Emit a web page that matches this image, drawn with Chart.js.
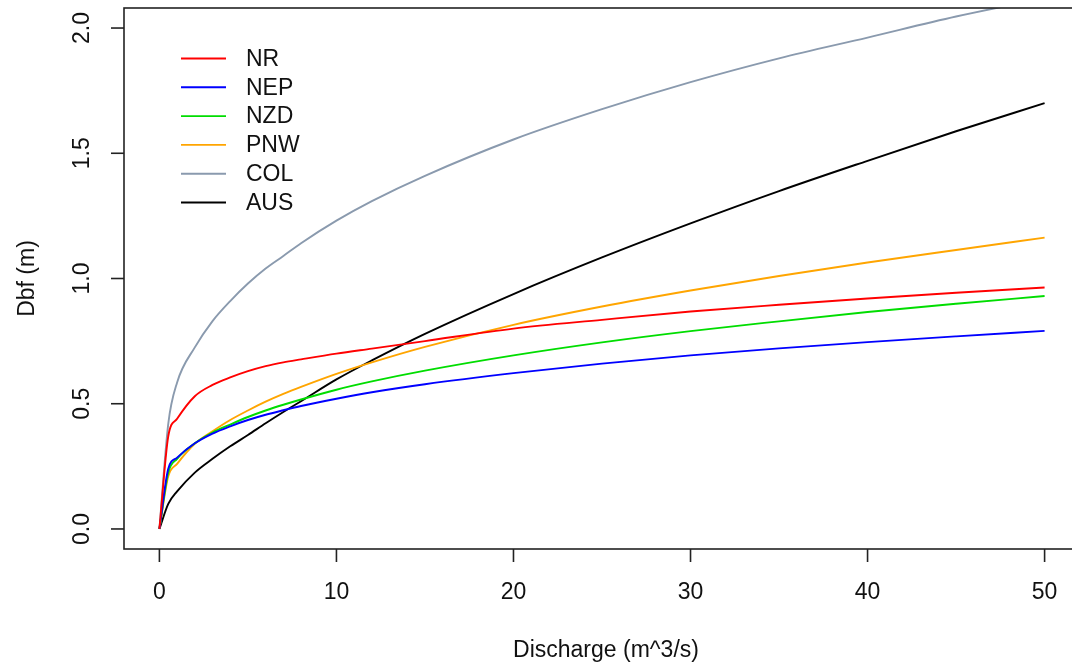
<!DOCTYPE html>
<html>
<head>
<meta charset="utf-8">
<script src="https://cdn.jsdelivr.net/npm/chart.js@4"></script>
<style>
  html, body { margin: 0; padding: 0; background: #fff; overflow: hidden; }
  #wrap { width: 1100px; height: 668px; }
</style>
</head>
<body>
<div id="wrap"><canvas id="c" width="1100" height="668"></canvas></div>
<script>
// discharge values (m^3/s) where each curve was read
const discharge = [0, 0.5, 1, 2, 3, 4, 5, 6, 7, 8, 10, 12, 15, 20, 25, 30, 35, 40, 45, 50];

const nr  = [0, 0.37, 0.44, 0.53, 0.575, 0.605, 0.63, 0.65, 0.665, 0.677, 0.70, 0.72, 0.75, 0.80, 0.835, 0.868, 0.895, 0.92, 0.943, 0.964];
const nep = [0, 0.24, 0.285, 0.342, 0.381, 0.41, 0.435, 0.456, 0.474, 0.491, 0.52, 0.546, 0.578, 0.622, 0.66, 0.693, 0.721, 0.746, 0.769, 0.791];
const nzd = [0, 0.225, 0.28, 0.342, 0.385, 0.417, 0.447, 0.473, 0.496, 0.517, 0.556, 0.589, 0.632, 0.693, 0.745, 0.79, 0.829, 0.866, 0.899, 0.93];
const pnw = [0, 0.21, 0.26, 0.34, 0.39, 0.435, 0.473, 0.508, 0.539, 0.567, 0.619, 0.665, 0.727, 0.815, 0.888, 0.952, 1.01, 1.064, 1.114, 1.163];
const col = [0, 0.42, 0.585, 0.725, 0.83, 0.91, 0.98, 1.04, 1.09, 1.141, 1.231, 1.309, 1.41, 1.555, 1.676, 1.784, 1.879, 1.962, 2.046, 2.119];
const aus = [0, 0.10, 0.15, 0.225, 0.28, 0.33, 0.375, 0.422, 0.467, 0.51, 0.597, 0.673, 0.779, 0.938, 1.084, 1.22, 1.349, 1.47, 1.588, 1.70];

const seriesNames = ['NR', 'NEP', 'NZD', 'PNW', 'COL', 'AUS'];
const seriesColors = ['#ff0000', '#0000ff', '#00dd00', '#ffa500', '#8a9aae', '#000000'];
const xTicks = [0, 10, 20, 30, 40, 50];
const yTicks = [0, 0.5, 1, 1.5, 2];
const yTickLabels = ['0.0', '0.5', '1.0', '1.5', '2.0'];

const FONT = '"Liberation Sans", Arial, sans-serif';

const datasets = [nr, nep, nzd, pnw, col, aus].map((vals, i) => ({
  label: seriesNames[i],
  data: discharge.map((q, j) => ({ x: q, y: vals[j] })),
  borderColor: seriesColors[i],
  backgroundColor: seriesColors[i],
  borderWidth: 1.9,
  pointRadius: 0,
  cubicInterpolationMode: 'monotone',
  fill: false
}));

// R-style box, ticks, tick labels, titles and legend
const rAxes = {
  id: 'rAxes',
  afterDraw(chart) {
    const { ctx, chartArea: a, scales: { x, y } } = chart;
    ctx.save();
    ctx.strokeStyle = '#222';
    ctx.lineWidth = 1.6;
    ctx.strokeRect(a.left, a.top, a.right - a.left, a.bottom - a.top);

    ctx.fillStyle = '#111';
    ctx.font = '23px ' + FONT;
    ctx.textAlign = 'center';
    ctx.textBaseline = 'middle';
    xTicks.forEach(v => {
      const px = x.getPixelForValue(v);
      ctx.beginPath();
      ctx.moveTo(px, a.bottom);
      ctx.lineTo(px, a.bottom + 13);
      ctx.stroke();
      ctx.fillText(String(v), px, 593);
    });
    yTicks.forEach((v, i) => {
      const py = y.getPixelForValue(v);
      ctx.beginPath();
      ctx.moveTo(a.left, py);
      ctx.lineTo(a.left - 13, py);
      ctx.stroke();
      ctx.save();
      ctx.translate(83, py);
      ctx.rotate(-Math.PI / 2);
      ctx.fillText(yTickLabels[i], 0, 0);
      ctx.restore();
    });

    ctx.fillText('Discharge (m^3/s)', (a.left + a.right) / 2 + 4, 651);
    ctx.save();
    ctx.translate(28, (a.top + a.bottom) / 2);
    ctx.rotate(-Math.PI / 2);
    ctx.fillText('Dbf (m)', 0, 0);
    ctx.restore();

    // legend
    ctx.textAlign = 'left';
    chart.data.datasets.forEach((ds, i) => {
      const ly = 58.5 + i * 28.8;
      ctx.strokeStyle = ds.borderColor;
      ctx.lineWidth = 1.9;
      ctx.beginPath();
      ctx.moveTo(181, ly);
      ctx.lineTo(226, ly);
      ctx.stroke();
      ctx.fillStyle = '#111';
      ctx.fillText(ds.label, 246, ly + 1);
    });
    ctx.restore();
  }
};

new Chart(document.getElementById('c'), {
  type: 'line',
  data: { datasets },
  options: {
    responsive: false,
    animation: false,
    layout: { padding: { left: 124, top: 8, right: 20, bottom: 119 } },
    plugins: { legend: { display: false }, tooltip: { enabled: false } },
    scales: {
      x: { type: 'linear', min: -2, max: 52, display: false },
      y: { type: 'linear', min: -0.08, max: 2.08, display: false }
    }
  },
  plugins: [rAxes]
});
</script>
</body>
</html>
